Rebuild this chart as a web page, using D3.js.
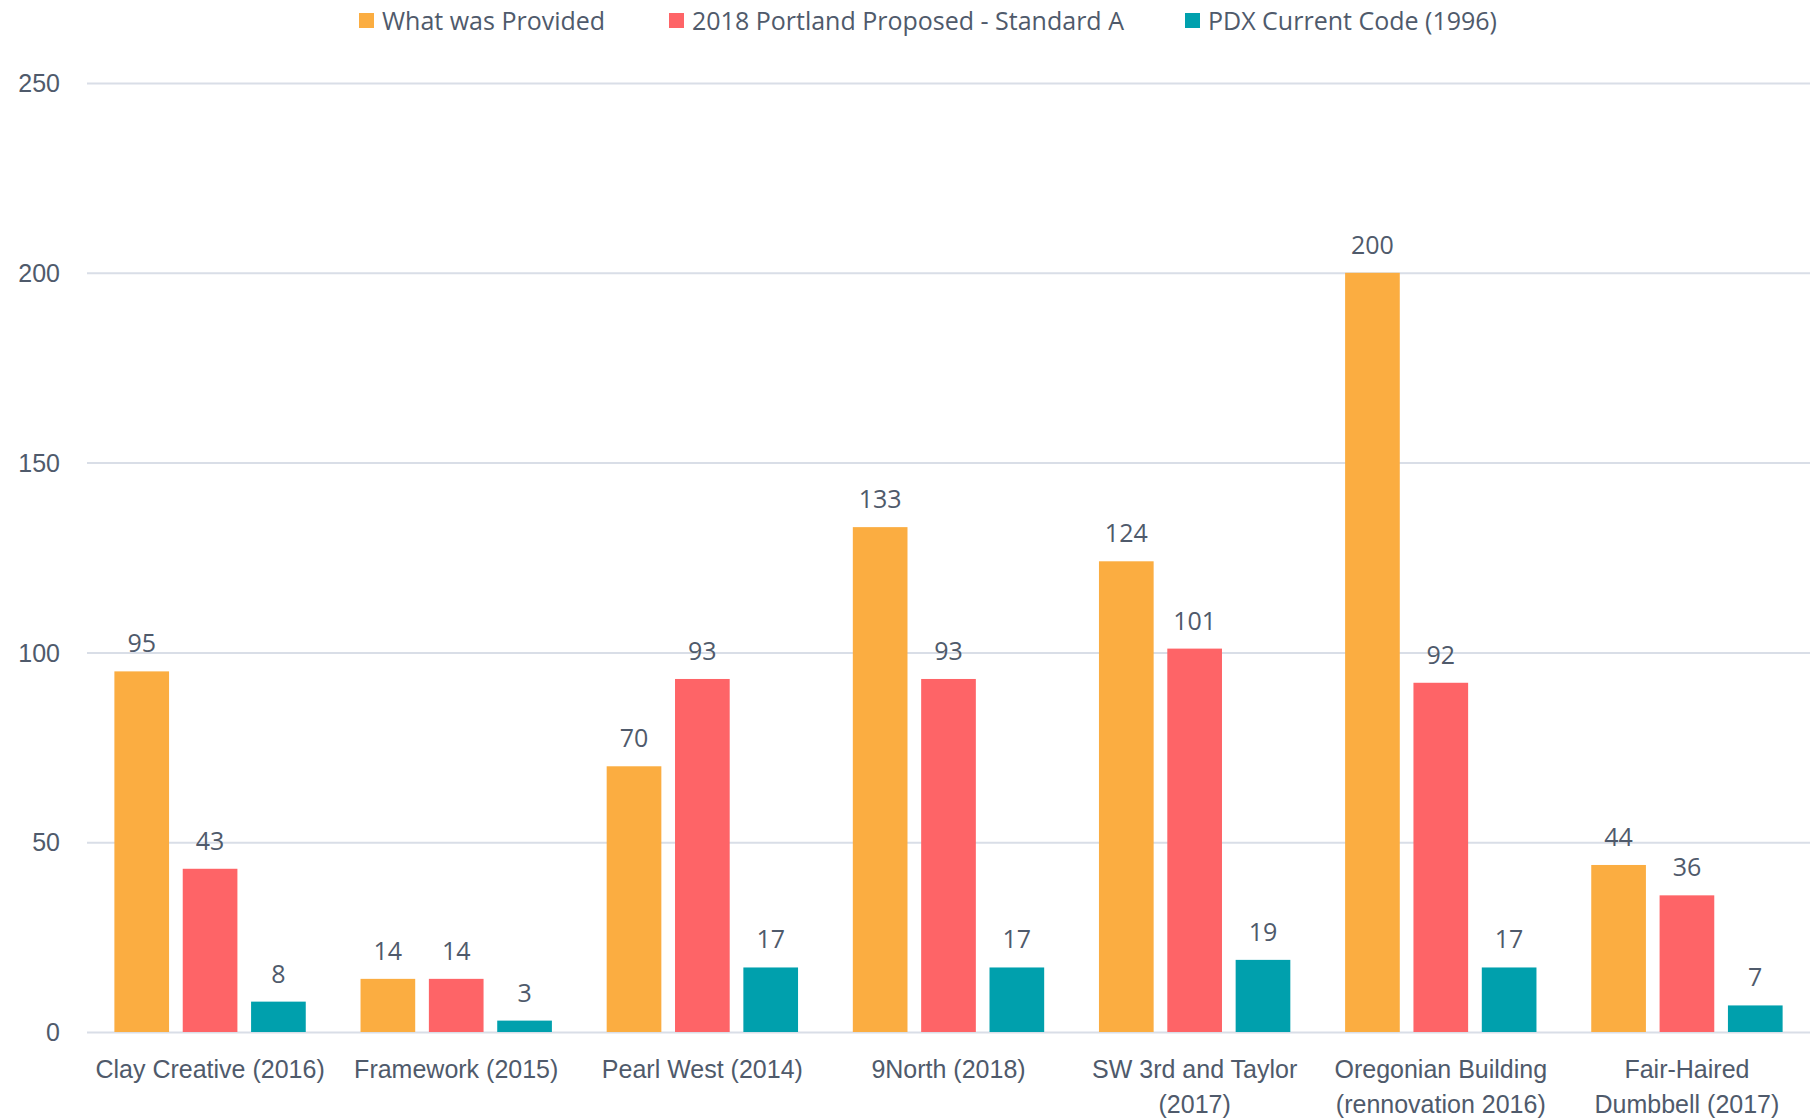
<!DOCTYPE html>
<html>
<head>
<meta charset="utf-8">
<script src="https://cdn.jsdelivr.net/npm/d3@7"></script>
<style>
  body { margin: 0; background: #fff; }
  svg { display: block; font-family: "Open Sans", "Noto Sans", sans-serif; }
  .axis text { fill: #4f5a6b; font-size: 25px; }
  .axis .domain { display: none; }
  .grid line { stroke: #d9dee7; stroke-width: 2; }
  .val { fill: #4f5a6b; font-size: 25px; text-anchor: middle; }
  .legend text { fill: #4f5a6b; font-size: 25px; }
</style>
</head>
<body>
<div id="chart"></div>
<script>
// values
const categories = [
	"Clay Creative (2016)", "Framework (2015)", "Pearl West (2014)", "9North (2018)",
	"SW 3rd and Taylor|(2017)", "Oregonian Building|(rennovation 2016)", "Fair-Haired|Dumbbell (2017)"
];
const seriesNames = ["What was Provided", "2018 Portland Proposed - Standard A", "PDX Current Code (1996)"];
const provided = [95, 14, 70, 133, 124, 200, 44];
const proposed = [43, 14, 93, 93, 101, 92, 36];
const current = [8, 3, 17, 17, 19, 17, 7];
const yTicks = [0, 50, 100, 150, 200, 250];
const colors = ["#fbad41", "#fe6467", "#00a0ad"];

const width = 1816, height = 1120;
const margin = { left: 87, right: 6, top: 83, bottom: 88 };

const svg = d3.select('#chart').append('svg')
	.attr('width', width)
	.attr('height', height);

const series = [provided, proposed, current];
const data = categories.map((c, i) => ({ cat: c, vals: series.map(s => s[i]) }));

const x0 = d3.scaleBand()
	.domain(categories)
	.range([margin.left, width - margin.right])
	.paddingInner(0.167)
	.paddingOuter(0.0835);
const x1 = d3.scaleBand()
	.domain(d3.range(3))
	.range([0, x0.bandwidth()])
	.paddingInner(0.2)
	.paddingOuter(0.1);
const y = d3.scaleLinear()
	.domain([0, 250])
	.range([height - margin.bottom, margin.top]);

// gridlines + y labels
const yAxis = svg.append('g')
	.attr('class', 'axis grid')
	.attr('transform', `translate(${margin.left},0)`)
	.call(d3.axisLeft(y).tickValues(yTicks)
		.tickSize(-(width - margin.left - margin.right))
		.tickPadding(27));
yAxis.selectAll('text').attr('dy', '0.35em');

// bars
const groups = svg.append('g').selectAll('g')
	.data(data).join('g')
	.attr('transform', d => `translate(${x0(d.cat)},0)`);
groups.selectAll('rect')
	.data(d => d.vals.map((v, k) => ({ k, v })))
	.join('rect')
	.attr('x', d => x1(d.k))
	.attr('y', d => y(d.v))
	.attr('width', x1.bandwidth())
	.attr('height', d => y(0) - y(d.v))
	.attr('fill', d => colors[d.k]);
groups.selectAll('text')
	.data(d => d.vals.map((v, k) => ({ k, v })))
	.join('text')
	.attr('class', 'val')
	.attr('x', d => x1(d.k) + x1.bandwidth() / 2)
	.attr('y', d => y(d.v) - 19)
	.text(d => d.v);

// x axis labels (two lines where needed)
const xAxis = svg.append('g')
	.attr('class', 'axis')
	.attr('transform', `translate(0,${y(0)})`)
	.call(d3.axisBottom(x0).tickSize(0).tickPadding(28));
xAxis.selectAll('text').each(function(d) {
	const t = d3.select(this);
	const lines = d.split('|');
	t.text(null);
	lines.forEach((ln, i) => {
		t.append('tspan')
			.attr('x', 0)
			.attr('dy', i === 0 ? '0.71em' : '1.4em')
			.text(ln);
	});
});
xAxis.selectAll('text').attr('dy', null);

// legend
const legendX = [359, 669, 1185];
const legend = svg.append('g').attr('class', 'legend')
	.selectAll('g').data(seriesNames).join('g')
	.attr('transform', (d, i) => `translate(${legendX[i]},13)`);
legend.append('rect')
	.attr('width', 15).attr('height', 15)
	.attr('fill', (d, i) => colors[i]);
legend.append('text')
	.attr('x', 23).attr('y', 8).attr('dy', '0.35em')
	.text(d => d);
</script>
</body>
</html>
